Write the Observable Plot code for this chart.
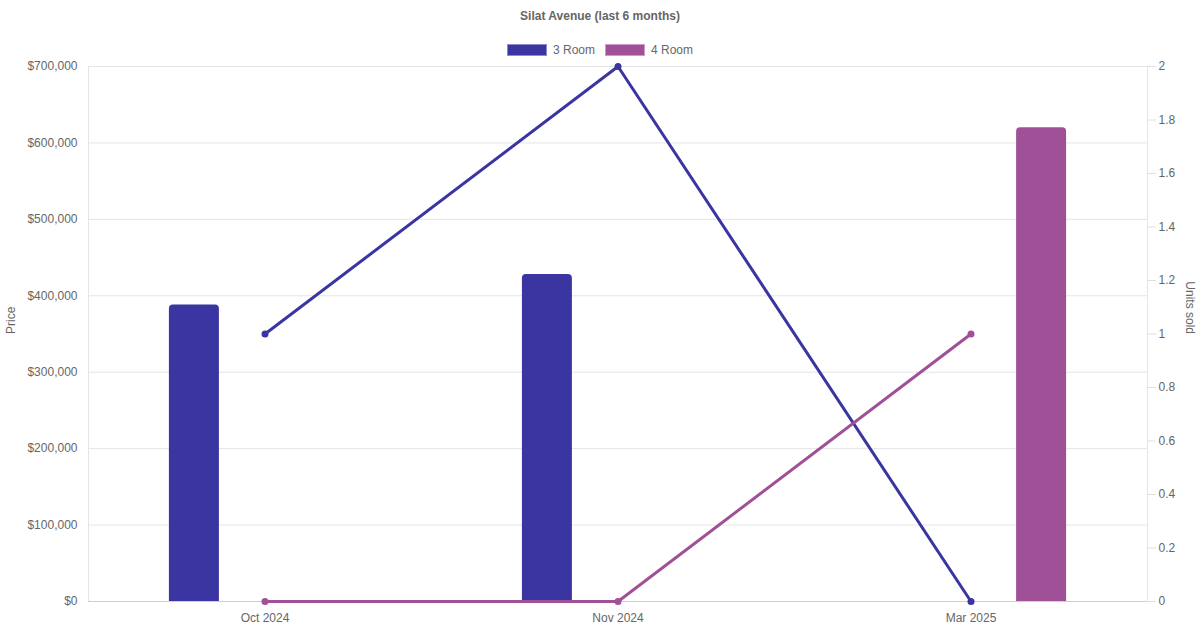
<!DOCTYPE html>
<html>
<head>
<meta charset="utf-8">
<script src="https://cdn.jsdelivr.net/npm/d3@7"></script>
<script src="https://cdn.jsdelivr.net/npm/@observablehq/plot@0.6"></script>
<style>
  html, body { margin: 0; padding: 0; background: #fff; }
  #wrap { position: relative; width: 1200px; height: 630px; font-family: "Liberation Sans", Arial, Helvetica, sans-serif; color: #666; }
  #chart { position: absolute; left: 0; top: 0; }
  #title { position: absolute; left: 0; width: 1200px; top: 9px; text-align: center; font-size: 12px; font-weight: bold; color: #666; }
  #legend { position: absolute; left: 0; width: 1200px; top: 43px; display: flex; justify-content: center; font-size: 12px; color: #666; }
  .item { display: flex; align-items: center; margin: 0 5px; }
  .sw { width: 38px; height: 10px; margin-right: 6px; }
</style>
</head>
<body>
<div id="wrap">
  <div id="chart"></div>
  <div id="title">Silat Avenue (last 6 months)</div>
  <div id="legend"></div>
</div>
<script>
const months = ["Oct 2024", "Nov 2024", "Mar 2025"];
const seriesNames = ["3 Room", "4 Room"];
const seriesColors = ["#3a35a0", "#a05096"];
const seriesBorders = ["#8e8bcc", "#cf9bc8"];
const price3Room = [388000, 428000, null];
const price4Room = [null, null, 620000];
const units3Room = [1, 2, 0];
const units4Room = [0, 0, 1];
const priceTicks = [0, 100000, 200000, 300000, 400000, 500000, 600000, 700000];
const unitTicks = [0, 0.2, 0.4, 0.6, 0.8, 1, 1.2, 1.4, 1.6, 1.8, 2];
const unitMax = 2, priceMax = 700000;
const k = priceMax / unitMax;

const bars = [];
months.forEach((m, i) => {
  if (price3Room[i] != null) bars.push({month: m, series: "3 Room", price: price3Room[i]});
  if (price4Room[i] != null) bars.push({month: m, series: "4 Room", price: price4Room[i]});
});
const line3 = months.map((m, i) => ({month: m, units: units3Room[i]}));
const line4 = months.map((m, i) => ({month: m, units: units4Room[i]}));

const bandW = (1200 - 88 - 53) / months.length;
const subW = bandW * 0.8 / 2;
const barW = 50;
const inset = (bandW - barW) / 2;

const fmtPrice = d => "$" + d3.format(",")(d);
const fmtUnits = d => { const v = Math.round(d / k * 10) / 10; return String(v); };

const chart = Plot.plot({
  width: 1200,
  height: 630,
  marginLeft: 88,
  marginRight: 53,
  marginTop: 66,
  marginBottom: 29,
  style: {fontFamily: "'Liberation Sans', Arial, Helvetica, sans-serif", fontSize: "12px", color: "#666", background: "transparent", overflow: "visible"},
  x: {type: "band", domain: months, padding: 0, axis: null},
  y: {domain: [0, priceMax], axis: null},
  marks: [
    Plot.ruleY(priceTicks, {stroke: "#e5e5e5", strokeWidth: 1}),
    Plot.frame({stroke: "#e5e5e5"}),
    Plot.ruleY([0], {stroke: "#cfcfcf"}),
    Plot.axisY({ticks: priceTicks, tickFormat: fmtPrice, tickSize: 0, tickPadding: 11, label: null, fill: "#666", fontSize: 12}),
    Plot.axisY({anchor: "right", ticks: unitTicks.map(u => u * k), tickFormat: fmtUnits, tickSize: 8, tickPadding: 3, label: null, stroke: "#e0e0e0", fill: "#666", fontSize: 12}),
    Plot.axisX({tickSize: 0, tickPadding: 12, label: null, fill: "#666", fontSize: 12}),
    Plot.barY(bars.filter(d => d.series === "3 Room"), {x: "month", y: "price", fill: seriesColors[0], insetLeft: inset, insetRight: inset, dx: -subW / 2, ry1: 4}),
    Plot.barY(bars.filter(d => d.series === "4 Room"), {x: "month", y: "price", fill: seriesColors[1], insetLeft: inset, insetRight: inset, dx: subW / 2, ry1: 4}),
    Plot.line(line3, {x: "month", y: d => d.units * k, stroke: seriesColors[0], strokeWidth: 3}),
    Plot.dot(line3, {x: "month", y: d => d.units * k, fill: seriesColors[0], r: 3.5}),
    Plot.line(line4, {x: "month", y: d => d.units * k, stroke: seriesColors[1], strokeWidth: 3}),
    Plot.dot(line4, {x: "month", y: d => d.units * k, fill: seriesColors[1], r: 3.5}),
    Plot.text(["Price"], {frameAnchor: "left", dx: -77, rotate: -90, fill: "#666", fontSize: 12}),
    Plot.text(["Units sold"], {frameAnchor: "right", dx: 42, rotate: 90, fill: "#666", fontSize: 12})
  ]
});
document.getElementById("chart").appendChild(chart);

const legend = document.getElementById("legend");
seriesNames.forEach((name, i) => {
  const it = document.createElement("div");
  it.className = "item";
  const sw = document.createElement("div");
  sw.className = "sw";
  sw.style.background = seriesColors[i];
  sw.style.border = "1px solid " + seriesBorders[i];
  const t = document.createElement("span");
  t.textContent = name;
  it.appendChild(sw); it.appendChild(t);
  legend.appendChild(it);
});
</script>
</body>
</html>
